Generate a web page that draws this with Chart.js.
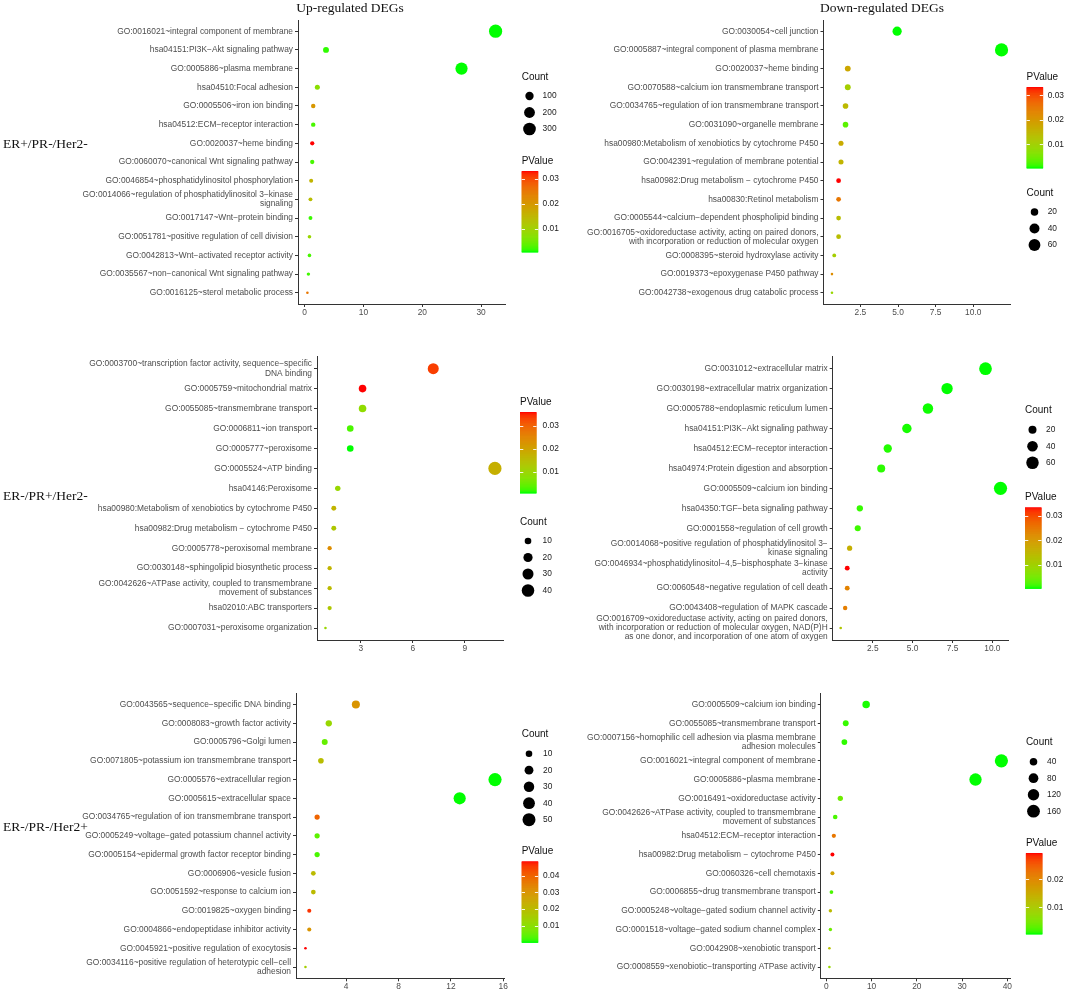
<!DOCTYPE html>
<html><head><meta charset="utf-8">
<script src="https://cdn.jsdelivr.net/npm/chart.js@4.4.1/dist/chart.umd.min.js"></script>
<style>
html,body{margin:0;padding:0;background:#fff;}
#wrap{position:relative;width:1065px;height:992px;overflow:hidden;background:#fff;}
canvas{position:absolute;}
.t{position:absolute;font-family:"Liberation Serif","Times New Roman",serif;color:#111;white-space:nowrap;transform:translate(-50%,-50%);font-size:13.5px;line-height:1;z-index:2;}
.r{position:absolute;font-family:"Liberation Serif","Times New Roman",serif;color:#111;white-space:nowrap;transform:translateY(-50%);font-size:13.5px;line-height:1;z-index:2;}
</style></head><body>
<div id="wrap">
<canvas id="c1"></canvas><canvas id="c2"></canvas><canvas id="c3"></canvas>
<canvas id="c4"></canvas><canvas id="c5"></canvas><canvas id="c6"></canvas>
<div class="t" style="left:350px;top:8px">Up-regulated DEGs</div>
<div class="t" style="left:882px;top:8px">Down-regulated DEGs</div>
<div class="r" style="left:3px;top:144px">ER+/PR-/Her2-</div>
<div class="r" style="left:3px;top:496px">ER-/PR+/Her2-</div>
<div class="r" style="left:3px;top:827px">ER-/PR-/Her2+</div>
</div>
<script>
// ---------------- DATA ----------------
// Panel 1: Up-regulated, ER+/PR-/Her2-
const labels1 = [
 "GO:0016021~integral component of membrane",
 "hsa04151:PI3K\u2212Akt signaling pathway",
 "GO:0005886~plasma membrane",
 "hsa04510:Focal adhesion",
 "GO:0005506~iron ion binding",
 "hsa04512:ECM\u2212receptor interaction",
 "GO:0020037~heme binding",
 "GO:0060070~canonical Wnt signaling pathway",
 "GO:0046854~phosphatidylinositol phosphorylation",
 "GO:0014066~regulation of phosphatidylinositol 3\u2212kinase\nsignaling",
 "GO:0017147~Wnt\u2212protein binding",
 "GO:0051781~positive regulation of cell division",
 "GO:0042813~Wnt\u2212activated receptor activity",
 "GO:0035567~non\u2212canonical Wnt signaling pathway",
 "GO:0016125~sterol metabolic process"];
const x1 = [32.46, 3.63, 26.67, 2.16, 1.46, 1.46, 1.29, 1.29, 1.11, 0.99, 0.99, 0.82, 0.82, 0.64, 0.47];
const count1 = [331, 37, 272, 22, 15, 15, 13, 13, 11, 10, 10, 8, 8, 7, 5];
const p1 = [0.0005, 0.0012, 0.0005, 0.0071, 0.0202, 0.0021, 0.0333, 0.0021, 0.0153, 0.0136, 0.0015, 0.0087, 0.0021, 0.0018, 0.0251];
const xTicks1 = [0, 10, 20, 30];
const xTickLabels1 = ["0", "10", "20", "30"];
const countBreaks1 = [100, 200, 300];
const pBreaks1 = [0.01, 0.02, 0.03];

// Panel 2: Down-regulated, ER+/PR-/Her2-
const labels2 = [
 "GO:0030054~cell junction",
 "GO:0005887~integral component of plasma membrane",
 "GO:0020037~heme binding",
 "GO:0070588~calcium ion transmembrane transport",
 "GO:0034765~regulation of ion transmembrane transport",
 "GO:0031090~organelle membrane",
 "hsa00980:Metabolism of xenobiotics by cytochrome P450",
 "GO:0042391~regulation of membrane potential",
 "hsa00982:Drug metabolism \u2212 cytochrome P450",
 "hsa00830:Retinol metabolism",
 "GO:0005544~calcium\u2212dependent phospholipid binding",
 "GO:0016705~oxidoreductase activity, acting on paired donors,\nwith incorporation or reduction of molecular oxygen",
 "GO:0008395~steroid hydroxylase activity",
 "GO:0019373~epoxygenase P450 pathway",
 "GO:0042738~exogenous drug catabolic process"];
const x2 = [4.94, 11.88, 1.66, 1.66, 1.51, 1.51, 1.21, 1.21, 1.05, 1.05, 1.05, 1.05, 0.76, 0.61, 0.61];
const count2 = [33, 78, 11, 11, 10, 10, 8, 8, 7, 7, 7, 7, 5, 4, 4];
const p2 = [0.0004, 0.0004, 0.0176, 0.0103, 0.0143, 0.0030, 0.0169, 0.0153, 0.0334, 0.0252, 0.0136, 0.0136, 0.0103, 0.0219, 0.0087];
const xTicks2 = [2.5, 5, 7.5, 10];
const xTickLabels2 = ["2.5", "5.0", "7.5", "10.0"];
const countBreaks2 = [20, 40, 60];
const pBreaks2 = [0.01, 0.02, 0.03];

// Panel 3: Up-regulated, ER-/PR+/Her2-
const labels3 = [
 "GO:0003700~transcription factor activity, sequence\u2212specific\nDNA binding",
 "GO:0005759~mitochondrial matrix",
 "GO:0055085~transmembrane transport",
 "GO:0006811~ion transport",
 "GO:0005777~peroxisome",
 "GO:0005524~ATP binding",
 "hsa04146:Peroxisome",
 "hsa00980:Metabolism of xenobiotics by cytochrome P450",
 "hsa00982:Drug metabolism \u2212 cytochrome P450",
 "GO:0005778~peroxisomal membrane",
 "GO:0030148~sphingolipid biosynthetic process",
 "GO:0042626~ATPase activity, coupled to transmembrane\nmovement of substances",
 "hsa02010:ABC transporters",
 "GO:0007031~peroxisome organization"];
const x3 = [7.18, 3.10, 3.10, 2.39, 2.39, 10.74, 1.67, 1.44, 1.44, 1.20, 1.20, 1.20, 1.20, 0.96];
const count3 = [30, 13, 13, 10, 10, 45, 7, 6, 6, 5, 5, 5, 5, 4];
const p3 = [0.0337, 0.0362, 0.0084, 0.0024, 0.0006, 0.0177, 0.0095, 0.0166, 0.0130, 0.0237, 0.0166, 0.0155, 0.0130, 0.0095];
const xTicks3 = [3, 6, 9];
const xTickLabels3 = ["3", "6", "9"];
const countBreaks3 = [10, 20, 30, 40];
const pBreaks3 = [0.01, 0.02, 0.03];

// Panel 4: Down-regulated, ER-/PR+/Her2-
const labels4 = [
 "GO:0031012~extracellular matrix",
 "GO:0030198~extracellular matrix organization",
 "GO:0005788~endoplasmic reticulum lumen",
 "hsa04151:PI3K\u2212Akt signaling pathway",
 "hsa04512:ECM\u2212receptor interaction",
 "hsa04974:Protein digestion and absorption",
 "GO:0005509~calcium ion binding",
 "hsa04350:TGF\u2212beta signaling pathway",
 "GO:0001558~regulation of cell growth",
 "GO:0014068~positive regulation of phosphatidylinositol 3\u2212\nkinase signaling",
 "GO:0046934~phosphatidylinositol\u22124,5\u2212bisphosphate 3\u2212kinase\nactivity",
 "GO:0060548~negative regulation of cell death",
 "GO:0043408~regulation of MAPK cascade",
 "GO:0016709~oxidoreductase activity, acting on paired donors,\nwith incorporation or reduction of molecular oxygen, NAD(P)H\nas one donor, and incorporation of one atom of oxygen"];
const x4 = [9.57, 7.16, 5.96, 4.64, 3.44, 3.03, 10.51, 1.69, 1.56, 1.05, 0.90, 0.90, 0.77, 0.49];
const count4 = [62, 47, 39, 30, 22, 20, 68, 11, 10, 7, 6, 6, 5, 3];
const p4 = [0.0006, 0.0006, 0.0007, 0.0008, 0.0010, 0.0012, 0.0006, 0.0015, 0.0018, 0.0163, 0.0334, 0.0236, 0.0242, 0.0121];
const xTicks4 = [2.5, 5, 7.5, 10];
const xTickLabels4 = ["2.5", "5.0", "7.5", "10.0"];
const countBreaks4 = [20, 40, 60];
const pBreaks4 = [0.01, 0.02, 0.03];

// Panel 5: Up-regulated, ER-/PR-/Her2+
const labels5 = [
 "GO:0043565~sequence\u2212specific DNA binding",
 "GO:0008083~growth factor activity",
 "GO:0005796~Golgi lumen",
 "GO:0071805~potassium ion transmembrane transport",
 "GO:0005576~extracellular region",
 "GO:0005615~extracellular space",
 "GO:0034765~regulation of ion transmembrane transport",
 "GO:0005249~voltage\u2212gated potassium channel activity",
 "GO:0005154~epidermal growth factor receptor binding",
 "GO:0006906~vesicle fusion",
 "GO:0051592~response to calcium ion",
 "GO:0019825~oxygen binding",
 "GO:0004866~endopeptidase inhibitor activity",
 "GO:0045921~positive regulation of exocytosis",
 "GO:0034116~positive regulation of heterotypic cell\u2212cell\nadhesion"];
const x5 = [4.74, 2.67, 2.36, 2.07, 15.37, 12.67, 1.78, 1.78, 1.78, 1.49, 1.49, 1.18, 1.18, 0.89, 0.89];
const count5 = [16, 9, 8, 7, 52, 43, 6, 6, 6, 5, 5, 4, 4, 3, 3];
const p5 = [0.0302, 0.0123, 0.0050, 0.0196, 0.0002, 0.0002, 0.0399, 0.0041, 0.0026, 0.0205, 0.0205, 0.0462, 0.0302, 0.0486, 0.0147];
const xTicks5 = [4, 8, 12, 16];
const xTickLabels5 = ["4", "8", "12", "16"];
const countBreaks5 = [10, 20, 30, 40, 50];
const pBreaks5 = [0.01, 0.02, 0.03, 0.04];

// Panel 6: Down-regulated, ER-/PR-/Her2+
const labels6 = [
 "GO:0005509~calcium ion binding",
 "GO:0055085~transmembrane transport",
 "GO:0007156~homophilic cell adhesion via plasma membrane\nadhesion molecules",
 "GO:0016021~integral component of membrane",
 "GO:0005886~plasma membrane",
 "GO:0016491~oxidoreductase activity",
 "GO:0042626~ATPase activity, coupled to transmembrane\nmovement of substances",
 "hsa04512:ECM\u2212receptor interaction",
 "hsa00982:Drug metabolism \u2212 cytochrome P450",
 "GO:0060326~cell chemotaxis",
 "GO:0006855~drug transmembrane transport",
 "GO:0005248~voltage\u2212gated sodium channel activity",
 "GO:0001518~voltage\u2212gated sodium channel complex",
 "GO:0042908~xenobiotic transport",
 "GO:0008559~xenobiotic\u2212transporting ATPase activity"];
const x6 = [8.80, 4.29, 3.99, 38.68, 32.96, 3.09, 1.96, 1.66, 1.35, 1.35, 1.13, 0.90, 0.90, 0.68, 0.68];
const count6 = [39, 19, 18, 172, 146, 14, 9, 7, 6, 6, 5, 4, 4, 3, 3];
const p6 = [0.0006, 0.0012, 0.0010, 0.0004, 0.0004, 0.0039, 0.0019, 0.0222, 0.0295, 0.0164, 0.0019, 0.0126, 0.0039, 0.0115, 0.0077];
const xTicks6 = [0, 10, 20, 30, 40];
const xTickLabels6 = ["0", "10", "20", "30", "40"];
const countBreaks6 = [40, 80, 120, 160];
const pBreaks6 = [0.01, 0.02];

// ---------------- COLOUR (ggplot-like Lab gradient green -> red) ----------------
function s2l(c){c/=255;return c<=0.04045?c/12.92:Math.pow((c+0.055)/1.055,2.4);}
function l2s(c){c=c<=0.0031308?12.92*c:1.055*Math.pow(Math.max(c,0),1/2.4)-0.055;return Math.round(Math.max(0,Math.min(1,c))*255);}
function rgb2lab(rgb){
  const R=s2l(rgb[0]),G=s2l(rgb[1]),B=s2l(rgb[2]);
  const X=(0.4124*R+0.3576*G+0.1805*B)/0.95047, Y=0.2126*R+0.7152*G+0.0722*B, Z=(0.0193*R+0.1192*G+0.9505*B)/1.08883;
  const f=t=>t>0.008856?Math.cbrt(t):7.787*t+16/116;
  const fx=f(X),fy=f(Y),fz=f(Z);
  return [116*fy-16,500*(fx-fy),200*(fy-fz)];
}
function lab2rgb(lab){
  const fy=(lab[0]+16)/116, fx=fy+lab[1]/500, fz=fy-lab[2]/200;
  const fi=t=>t>0.206893?t*t*t:(t-16/116)/7.787;
  const X=0.95047*fi(fx), Y=fi(fy), Z=1.08883*fi(fz);
  return [l2s(3.2406*X-1.5372*Y-0.4986*Z), l2s(-0.9689*X+1.8758*Y+0.0415*Z), l2s(0.0557*X-0.2040*Y+1.0570*Z)];
}
const LAB_LO=rgb2lab([0,255,0]), LAB_HI=rgb2lab([255,0,0]);
function gradColor(t){
  t=Math.max(0,Math.min(1,t));
  const c=lab2rgb(LAB_LO.map((v,i)=>v+(LAB_HI[i]-v)*t));
  return 'rgb('+c[0]+','+c[1]+','+c[2]+')';
}

const R_MIN=1.3, R_MAX=6.6;
const SANS='"Liberation Sans", Arial, Helvetica, sans-serif';

// ---------------- LEGEND PLUGIN ----------------
const ggLegend={
  id:'ggLegend',
  afterDraw(chart,args,o){
    if(!o||!o.blocks)return;
    const ctx=chart.ctx; ctx.save();
    ctx.textBaseline='middle'; ctx.textAlign='left';
    for(const b of o.blocks){
      ctx.fillStyle='#111'; ctx.font='10px '+SANS;
      ctx.fillText(b.type==='count'?'Count':'PValue', o.x, b.y);
      if(b.type==='count'){
        o.countBreaks.forEach((v,i)=>{
          const cy=b.y+19+i*16.5;
          ctx.beginPath(); ctx.arc(o.dotX,cy,o.radius(v),0,Math.PI*2);
          ctx.fillStyle='#000'; ctx.fill();
          ctx.fillStyle='#1a1a1a'; ctx.font='8.4px '+SANS;
          ctx.fillText(String(v),o.labelX,cy);
        });
      }else{
        const top=b.y+10, h=81, w=16.5, n=160;
        for(let k=0;k<n;k++){
          ctx.fillStyle=gradColor(1-k/(n-1));
          ctx.fillRect(o.x, top+k*h/n, w, h/n+0.6);
        }
        o.pBreaks.forEach(v=>{
          const t=(v-o.pmin)/(o.pmax-o.pmin);
          const yy=Math.round(top+h*(1-t))+0.5;
          ctx.strokeStyle='rgba(255,255,255,0.9)'; ctx.lineWidth=1;
          ctx.beginPath(); ctx.moveTo(o.x,yy); ctx.lineTo(o.x+3.3,yy);
          ctx.moveTo(o.x+w-3.3,yy); ctx.lineTo(o.x+w,yy); ctx.stroke();
          ctx.fillStyle='#1a1a1a'; ctx.font='8.4px '+SANS;
          ctx.fillText(String(v),o.labelX,top+h*(1-t));
        });
      }
    }
    ctx.restore();
  }
};

// ---------------- PANEL BUILDER ----------------
function makePanel(cfg){
  const {id,box,area,labels,xs,counts,ps,xTicks,xTickLabels,countBreaks,pBreaks,legend}=cfg;
  const cv=document.getElementById(id);
  cv.width=box.w; cv.height=box.h;
  cv.style.left=box.left+'px'; cv.style.top=box.top+'px';
  cv.style.width=box.w+'px'; cv.style.height=box.h+'px';
  const xminD=Math.min(...xs), xmaxD=Math.max(...xs), span=xmaxD-xminD;
  const cmin=Math.min(...counts), cmax=Math.max(...counts);
  const pmin=Math.min(...ps), pmax=Math.max(...ps);
  const radius=c=>R_MIN+(R_MAX-R_MIN)*Math.sqrt(Math.max(0,(c-cmin)/(cmax-cmin)));
  const n=labels.length;
  const font={family:SANS,size:8.4,lineHeight:1.08};
  new Chart(cv,{
    type:'bubble',
    data:{datasets:[{
      data:xs.map((x,i)=>({x:x,y:i,count:counts[i],p:ps[i]})),
      backgroundColor:c=>gradColor((c.raw.p-pmin)/(pmax-pmin)),
      borderWidth:0, hoverBorderWidth:0, hoverRadius:0,
      radius:c=>radius(c.raw.count)
    }]},
    options:{
      responsive:false, animation:false, events:[], devicePixelRatio:1,
      layout:{padding:{left:0,top:area.top-box.top,right:box.left+box.w-area.right,bottom:0}},
      plugins:{legend:{display:false},tooltip:{enabled:false},
        ggLegend:{x:legend.x-box.left,dotX:legend.dotX-box.left,labelX:legend.labelX-box.left,
          blocks:legend.blocks.map(b=>({type:b.type,y:b.y-box.top})),
          countBreaks:countBreaks,pBreaks:pBreaks,pmin:pmin,pmax:pmax,radius:radius}},
      scales:{
        x:{type:'linear',position:'bottom',bounds:'data',min:xminD-0.05*span,max:xmaxD+0.05*span,
          afterBuildTicks:s=>{s.ticks=xTicks.map(v=>({value:v}));},
          afterFit:s=>{s.height=box.top+box.h-area.bottom;},
          ticks:{autoSkip:false,maxRotation:0,minRotation:0,padding:1,color:'#4d4d4d',font:font,
            callback:v=>{const k=xTicks.indexOf(v);return k>=0?xTickLabels[k]:'';}},
          grid:{display:true,drawOnChartArea:false,drawTicks:true,tickLength:3,color:'#333',lineWidth:1},
          border:{display:true,color:'#333',width:1}},
        y:{type:'linear',position:'left',reverse:true,bounds:'data',min:-0.6,max:n-1+0.6,
          afterBuildTicks:s=>{s.ticks=labels.map((_,i)=>({value:i}));},
          afterFit:s=>{s.width=area.left-box.left;},
          ticks:{autoSkip:false,padding:2,color:'#4d4d4d',font:font,
            callback:v=>labels[v]!==undefined?labels[v].split('\n'):''},
          grid:{display:true,drawOnChartArea:false,drawTicks:true,tickLength:3,color:'#333',lineWidth:1},
          border:{display:true,color:'#333',width:1}}
      }
    },
    plugins:[ggLegend]
  });
}

makePanel({id:'c1',box:{left:0,top:0,w:575,h:330},area:{left:298,right:505,top:20,bottom:304},
  labels:labels1,xs:x1,counts:count1,ps:p1,xTicks:xTicks1,xTickLabels:xTickLabels1,countBreaks:countBreaks1,pBreaks:pBreaks1,
  legend:{x:521.7,dotX:529.5,labelX:542.6,blocks:[{type:'count',y:77},{type:'pvalue',y:161}]}});
makePanel({id:'c2',box:{left:575,top:0,w:490,h:330},area:{left:823.5,right:1010,top:20,bottom:304},
  labels:labels2,xs:x2,counts:count2,ps:p2,xTicks:xTicks2,xTickLabels:xTickLabels2,countBreaks:countBreaks2,pBreaks:pBreaks2,
  legend:{x:1026.6,dotX:1034.5,labelX:1047.7,blocks:[{type:'pvalue',y:77},{type:'count',y:193}]}});
makePanel({id:'c3',box:{left:0,top:330,w:575,h:330},area:{left:317,right:503.4,top:356.7,bottom:640},
  labels:labels3,xs:x3,counts:count3,ps:p3,xTicks:xTicks3,xTickLabels:xTickLabels3,countBreaks:countBreaks3,pBreaks:pBreaks3,
  legend:{x:520,dotX:528,labelX:542.5,blocks:[{type:'pvalue',y:402},{type:'count',y:522}]}});
makePanel({id:'c4',box:{left:575,top:330,w:490,h:330},area:{left:832.7,right:1008.5,top:356.7,bottom:640},
  labels:labels4,xs:x4,counts:count4,ps:p4,xTicks:xTicks4,xTickLabels:xTickLabels4,countBreaks:countBreaks4,pBreaks:pBreaks4,
  legend:{x:1025,dotX:1032.5,labelX:1046,blocks:[{type:'count',y:410.7},{type:'pvalue',y:497.3}]}});
makePanel({id:'c5',box:{left:0,top:660,w:575,h:332},area:{left:296,right:504.5,top:693.3,bottom:978.3},
  labels:labels5,xs:x5,counts:count5,ps:p5,xTicks:xTicks5,xTickLabels:xTickLabels5,countBreaks:countBreaks5,pBreaks:pBreaks5,
  legend:{x:521.7,dotX:529,labelX:543,blocks:[{type:'count',y:734.7},{type:'pvalue',y:851.3}]}});
makePanel({id:'c6',box:{left:575,top:660,w:490,h:332},area:{left:820.8,right:1010,top:693.3,bottom:978.3},
  labels:labels6,xs:x6,counts:count6,ps:p6,xTicks:xTicks6,xTickLabels:xTickLabels6,countBreaks:countBreaks6,pBreaks:pBreaks6,
  legend:{x:1025.9,dotX:1033.5,labelX:1047,blocks:[{type:'count',y:742.7},{type:'pvalue',y:843}]}});
</script>
</body></html>
